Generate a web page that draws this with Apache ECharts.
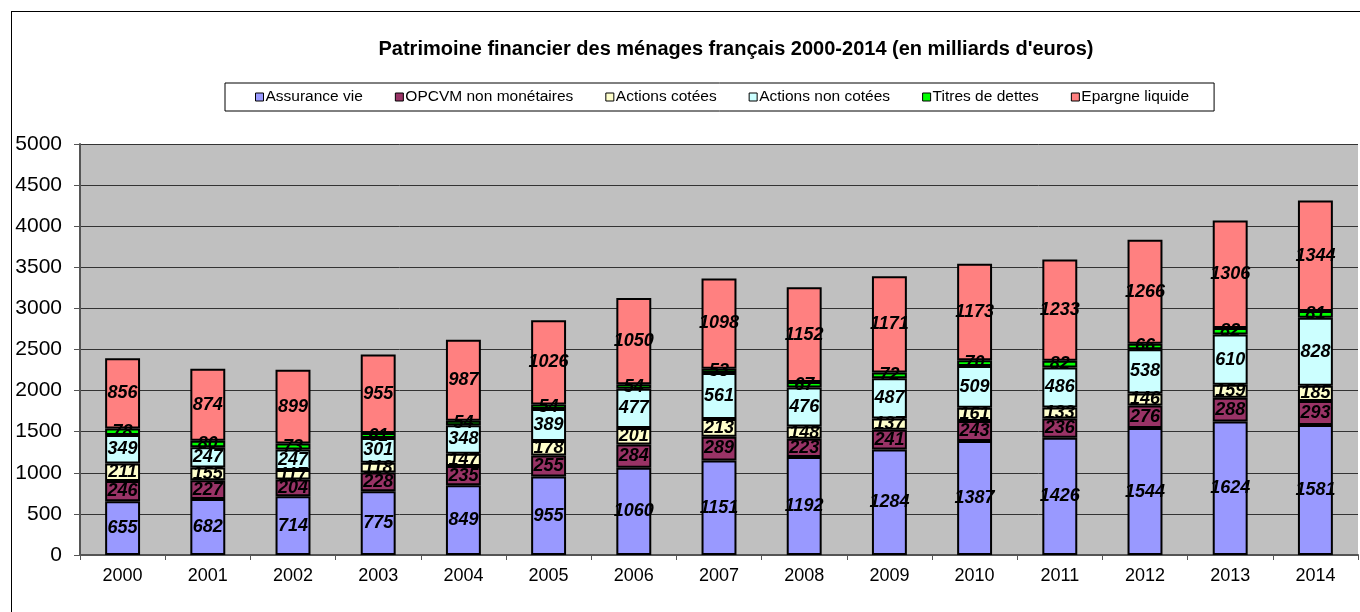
<!DOCTYPE html>
<html>
<head>
<meta charset="utf-8">
<script src="https://cdn.jsdelivr.net/npm/echarts@6/dist/echarts.min.js"></script>
<style>
html, body { margin: 0; padding: 0; background: #fff; }
#frame { position: absolute; left: 11px; top: 11px; width: 1360px; height: 620px; border: 1px solid #000; box-sizing: border-box; }
#chart { position: absolute; left: 0; top: 0; width: 1360px; height: 612px; }
</style>
</head>
<body>
<div id="frame"></div>
<div id="chart"></div>
<script>
// Patrimoine financier des ménages français (milliards d'euros)
var annees = ['2000','2001','2002','2003','2004','2005','2006','2007','2008','2009','2010','2011','2012','2013','2014'];
var assuranceVie   = [655, 682, 714, 775, 849, 955, 1060, 1151, 1192, 1284, 1387, 1426, 1544, 1624, 1581];
var opcvm          = [246, 227, 204, 228, 235, 255, 284, 289, 223, 241, 243, 236, 276, 288, 293];
var actionsCotees  = [211, 155, 117, 118, 147, 178, 201, 213, 148, 137, 161, 133, 146, 159, 185];
var actionsNonCot  = [349, 247, 247, 301, 348, 389, 477, 561, 476, 487, 509, 486, 538, 610, 828];
var titresDettes   = [78, 80, 73, 61, 54, 54, 54, 53, 67, 72, 70, 82, 66, 82, 81];
var epargneLiquide = [856, 874, 899, 955, 987, 1026, 1050, 1098, 1152, 1171, 1173, 1233, 1266, 1306, 1344];
var yTicks = [0, 500, 1000, 1500, 2000, 2500, 3000, 3500, 4000, 4500, 5000];

var noms = ['Assurance vie', 'OPCVM non monétaires', 'Actions cotées', 'Actions non cotées', 'Titres de dettes', 'Epargne liquide'];
var couleurs = ['#9999FF', '#993366', '#FFFFCC', '#CCFFFF', '#00FF00', '#FF8080'];
var donnees = [assuranceVie, opcvm, actionsCotees, actionsNonCot, titresDettes, epargneLiquide];

var chart = echarts.init(document.getElementById('chart'));

var series = [];
for (var i = 0; i < noms.length; i++) {
    series.push({
        name: noms[i],
        type: 'bar',
        stack: 'total',
        barWidth: '41%',
        data: donnees[i],
        itemStyle: {
            color: couleurs[i],
            borderColor: '#000',
            borderWidth: 2
        },
        label: {
            show: true,
            position: 'inside',
            color: '#000',
            fontFamily: 'Liberation Sans',
            fontWeight: 'bold',
            fontStyle: 'italic',
            fontSize: 18
        },
        emphasis: { disabled: true }
    });
}

var option = {
    animation: false,
    backgroundColor: 'transparent',
    title: {
        text: "Patrimoine financier des ménages français 2000-2014 (en milliards d'euros)",
        left: 731,
        textAlign: 'center',
        top: 34,
        textStyle: {
            fontFamily: 'Liberation Sans',
            fontWeight: 'bold',
            fontSize: 20,
            color: '#000'
        }
    },
    legend: {
        data: noms,
        left: 225,
        top: 83,
        width: 1000,
        padding: [6, 25, 6, 30],
        borderColor: '#000',
        borderWidth: 1,
        backgroundColor: '#fff',
        itemWidth: 8,
        itemHeight: 8,
        itemGap: 32,
        icon: 'rect',
        itemStyle: { borderColor: '#000', borderWidth: 1 },
        textStyle: {
            fontFamily: 'Liberation Sans',
            fontSize: 15.5,
            color: '#000',
            padding: [0, 0, 0, -3]
        }
    },
    grid: {
        left: 80,
        right: 2,
        top: 144,
        bottom: 57,
        show: true,
        backgroundColor: '#C0C0C0',
        borderWidth: 0
    },
    xAxis: {
        type: 'category',
        data: annees,
        axisLine: { lineStyle: { color: '#555', width: 2 } },
        axisTick: { show: true, length: 5, lineStyle: { color: '#555' } },
        axisLabel: {
            fontFamily: 'Liberation Sans',
            fontSize: 18,
            color: '#000',
            margin: 12
        }
    },
    yAxis: {
        type: 'value',
        min: yTicks[0],
        max: yTicks[yTicks.length - 1],
        interval: 500,
        axisLine: { show: true, lineStyle: { color: '#555', width: 2 } },
        axisTick: { show: true, length: 6, lineStyle: { color: '#555' } },
        axisLabel: {
            fontFamily: 'Liberation Sans',
            fontSize: 21,
            color: '#000',
            margin: 18,
            formatter: function (v) { return String(v); }
        },
        splitLine: { show: true, lineStyle: { color: '#333', width: 1 } }
    },
    series: series
};

chart.setOption(option);
</script>
</body>
</html>
